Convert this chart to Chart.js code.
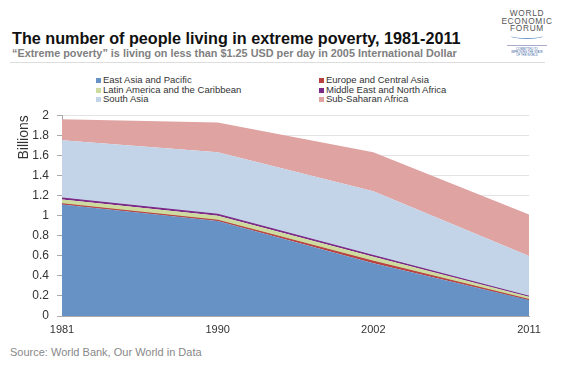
<!DOCTYPE html>
<html><head><meta charset="utf-8">
<script src="https://cdn.jsdelivr.net/npm/chart.js@4/dist/chart.umd.min.js"></script>
<style>
html,body{margin:0;padding:0;background:#fff;}
body{width:570px;height:371px;position:relative;overflow:hidden;font-family:"Liberation Sans",Arial,sans-serif;}
#title{position:absolute;left:12px;top:29px;font-size:16.2px;font-weight:bold;color:#111;white-space:nowrap;}
#sub{position:absolute;left:12px;top:47px;font-size:10.85px;font-weight:bold;color:#808080;white-space:nowrap;}
#rule{position:absolute;left:10px;top:62px;width:535px;height:1px;background:#ddd;}
#logo{position:absolute;left:497px;top:10px;width:60px;text-align:center;color:#555;font-size:8.3px;line-height:7.5px;letter-spacing:0.7px;}
#logo .arc{width:32px;height:5px;margin:0 auto;border-bottom:1px solid #6f95c8;border-radius:0 0 50% 50%;}
#logo .tag{color:#3a5fa0;font-size:2.8px;line-height:3.2px;letter-spacing:0;margin:6px 10px 0 10px;border-top:1px solid #aac;padding-top:2px;}
#legend{position:absolute;left:96px;top:75px;width:420px;}
.li{position:absolute;font-size:9.5px;color:#333;white-space:nowrap;line-height:10px;}
.sw{display:inline-block;width:5px;height:5px;margin-right:2px;vertical-align:0px;}
#wrap{position:absolute;left:0;top:100px;width:570px;height:240px;}
#src{position:absolute;left:10px;top:346px;font-size:11px;color:#888;}
</style></head><body>
<div id="title">The number of people living in extreme poverty, 1981-2011</div>
<div id="sub">“Extreme poverty” is living on less than $1.25 USD per day in 2005 International Dollar</div>
<div id="rule"></div>
<div id="logo">WORLD<br>ECONOMIC<br>FORUM<div class="arc"></div><div class="tag">COMMITTED TO<br>IMPROVING THE STATE<br>OF THE WORLD</div></div>
<div id="legend"></div>
<div id="wrap"><canvas id="c" width="570" height="240"></canvas></div>
<div id="src">Source: World Bank, Our World in Data</div>
<script>
const years = ["1981","1990","2002","2011"];
const yTicks = [0,0.2,0.4,0.6,0.8,1,1.2,1.4,1.6,1.8,2];
const seriesNames = ["East Asia and Pacific","Europe and Central Asia","Latin America and the Caribbean","Middle East and North Africa","South Asia","Sub-Saharan Africa"];
const eastAsia = [1.11, 0.945, 0.525, 0.16];
const europe = [0.008, 0.009, 0.02, 0.003];
const latinAmerica = [0.043, 0.045, 0.045, 0.028];
const middleEast = [0.014, 0.013, 0.012, 0.006];
const southAsia = [0.575, 0.62, 0.64, 0.40];
const subSaharan = [0.21, 0.295, 0.39, 0.415];
const colors = ["#6792c5","#b84040","#cddc9e","#7c2a87","#c3d4e9","#dfa3a2"];
const values = [eastAsia, europe, latinAmerica, middleEast, southAsia, subSaharan];

// legend
const lg = document.getElementById('legend');
seriesNames.forEach((n,i)=>{
  const d = document.createElement('div');
  d.className='li';
  d.style.left = (i%2? 223:0)+'px';
  d.style.top = (Math.floor(i/2)*9.5)+'px';
  d.innerHTML = '<span class="sw" style="background:'+colors[i]+'"></span>'+n;
  lg.appendChild(d);
});

const datasets = values.map((v,i)=>({
  label: seriesNames[i],
  data: v,
  backgroundColor: colors[i],
  borderColor: colors[i],
  borderWidth: (i===1||i===3)?1.2:0,
  pointRadius: 0,
  fill: i===0 ? 'origin' : '-1',
  tension: 0
}));

new Chart(document.getElementById('c'), {
  type: 'line',
  data: { labels: years, datasets },
  options: {
    responsive: false,
    animation: false,
    layout: { padding: { left: 0, right: 41, top: 12, bottom: 0 } },
    plugins: { legend: { display: false }, tooltip: { enabled: false } },
    scales: {
      x: {
        offset: false,
        grid: { display: false, drawTicks: false },
        border: { color: '#aaa' },
        ticks: { color: '#333', font: { family: 'Liberation Sans', size: 11 }, maxRotation: 0, autoSkip: false, padding: 7 },
        afterFit: s => { s.height = 24; }
      },
      y: {
        stacked: true,
        min: 0, max: 2,
        z: 1,
        afterBuildTicks: s => { s.ticks = yTicks.map(v=>({value:v})); },
        grid: { color: 'rgba(0,0,0,0.11)', tickLength: 5, tickColor: '#aaa' },
        border: { color: '#aaa' },
        ticks: { color: '#333', font: { family: 'Liberation Sans', size: 12 }, padding: 8,
          callback: v => String(Math.round(v*10)/10) },
        title: { display: true, text: 'Billions', align: 'end', color: '#333', font: { family: 'Liberation Sans', size: 14 }, padding: { top: 16, bottom: 0 } },
        afterFit: s => { s.width = 62; }
      }
    }
  }
});
</script>
</body></html>
